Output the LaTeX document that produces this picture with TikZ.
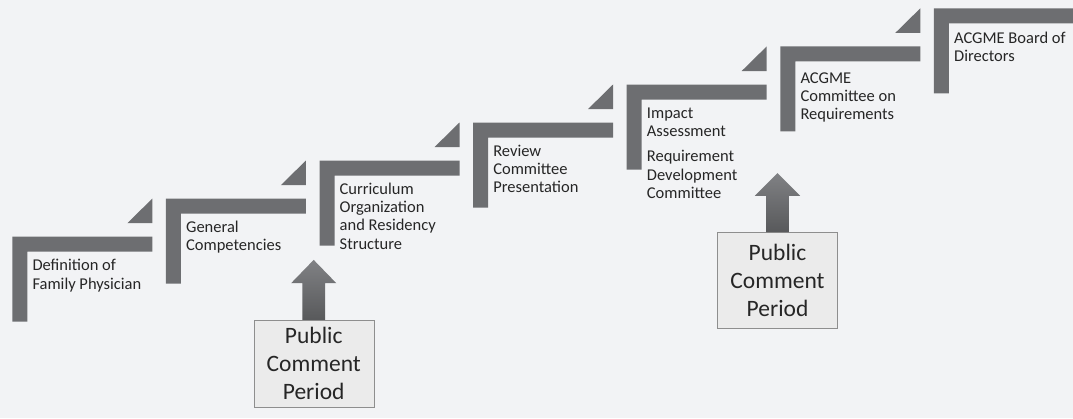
\documentclass[tikz,border=0pt]{standalone}
\usepackage{fontspec}
\setmainfont{Carlito}
\usepackage{tikz}
\usetikzlibrary{calc}

\definecolor{bgcol}{HTML}{F2F3F5}
\definecolor{barcol}{HTML}{6D6E71}
\definecolor{boxfill}{HTML}{EBEBEB}
\definecolor{boxline}{HTML}{8E8E8E}
\definecolor{textcol}{HTML}{262626}
\definecolor{arrowtop}{HTML}{808184}
\definecolor{arrowbot}{HTML}{58595B}

\tikzset{
	bar/.style={fill=barcol},
	% base west は最終行のベースライン
	steptext/.style={anchor=base west, inner sep=0pt, align=left, text=textcol,
		font=\fontsize{16.5}{18.3}\selectfont},
	commentbox/.style={draw=boxline, fill=boxfill, text=textcol, align=center,
		minimum width=120pt, inner sep=0pt, font=\fontsize{23.5}{28.3}\selectfont},
	uparrow/.style={top color=arrowtop, bottom color=arrowbot}
}

\begin{document}
\begin{tikzpicture}[x=1pt,y=-1pt]
	% 背景
	\fill[bgcol] (0,0) rectangle (1073,418);
	\useasboundingbox (0,0) rectangle (1073,418);
	% 各段の左上の点
	\coordinate (S1) at (12.3,236.7);
	\coordinate (S2) at (165.9,198.6);
	\coordinate (S3) at (319.5,160.6);
	\coordinate (S4) at (473.1,122.5);
	\coordinate (S5) at (626.7,84.5);
	\coordinate (S6) at (780.3,46.4);
	\coordinate (S7) at (933.9,8.3);
	% 段の描画
	\fill[bar] (S1) -- ++(140,0) -- ++(0,15) -- ++(-125,0) -- ++(0,70) -- ++(-15,0) -- cycle;
	\fill[bar] (S2) -- ++(140,0) -- ++(0,15) -- ++(-125,0) -- ++(0,70) -- ++(-15,0) -- cycle;
	\fill[bar] (S3) -- ++(140,0) -- ++(0,15) -- ++(-125,0) -- ++(0,70) -- ++(-15,0) -- cycle;
	\fill[bar] (S4) -- ++(140,0) -- ++(0,15) -- ++(-125,0) -- ++(0,70) -- ++(-15,0) -- cycle;
	\fill[bar] (S5) -- ++(140,0) -- ++(0,15) -- ++(-125,0) -- ++(0,70) -- ++(-15,0) -- cycle;
	\fill[bar] (S6) -- ++(140,0) -- ++(0,15) -- ++(-125,0) -- ++(0,70) -- ++(-15,0) -- cycle;
	\fill[bar] (S7) -- (1073,8.3) -- (1073,23.3) -- ++(-124.1,0) -- ++(0,70) -- ++(-15,0) -- cycle;
	% 三角の描画
	\fill[bar] ($(S1)+(115,-13.5)$) -- ++(25,0) -- ++(0,-24.6) -- cycle;
	\fill[bar] ($(S2)+(115,-13.5)$) -- ++(25,0) -- ++(0,-24.6) -- cycle;
	\fill[bar] ($(S3)+(115,-13.5)$) -- ++(25,0) -- ++(0,-24.6) -- cycle;
	\fill[bar] ($(S4)+(115,-13.5)$) -- ++(25,0) -- ++(0,-24.6) -- cycle;
	\fill[bar] ($(S5)+(115,-13.5)$) -- ++(25,0) -- ++(0,-24.6) -- cycle;
	\fill[bar] ($(S6)+(115,-13.5)$) -- ++(25,0) -- ++(0,-24.6) -- cycle;
	% 文字の描画
	\node[steptext] (definition) at ($(S1)+(20,52.3)$) {Definition of\\Family Physician};
	\node[steptext] (competencies) at ($(S2)+(20,52.3)$) {General\\Competencies};
	\node[steptext] (curriculum) at ($(S3)+(20,88.6)$) {Curriculum\\Organization\\and Residency\\Structure};
	\node[steptext] (review) at ($(S4)+(20,70.1)$) {Review\\Committee\\Presentation};
	\node[steptext] (impact) at ($(S5)+(20,52.1)$) {Impact\\Assessment};
	\node[steptext] (reqdev) at ($(S5)+(20,113.8)$) {Requirement\\Development\\Committee};
	\node[steptext] (committee) at ($(S6)+(20,73.5)$) {ACGME\\Committee on\\Requirements};
	\node[steptext] (board) at ($(S7)+(20,53.3)$) {ACGME Board of\\Directors};
	% 意見募集期間
	\node[commentbox, minimum height=87pt] (comment1) at (313.7,363.6) {Public\\Comment\\Period};
	\node[commentbox, minimum height=96pt] (comment2) at (777.5,280.3) {Public\\Comment\\Period};
	% 矢印の描画
	\shade[uparrow] (comment1.north) ++(-11.3,0) -- ++(0,-36.7) -- ++(-11.3,0) -- ++(22.6,-23.3)
		-- ++(22.6,23.3) -- ++(-11.3,0) -- ++(0,36.7) -- cycle;
	\shade[uparrow] (comment2.north) ++(-11.3,0) -- ++(0,-36.3) -- ++(-11.3,0) -- ++(22.6,-22.7)
		-- ++(22.6,22.7) -- ++(-11.3,0) -- ++(0,36.3) -- cycle;
\end{tikzpicture}
\end{document}
